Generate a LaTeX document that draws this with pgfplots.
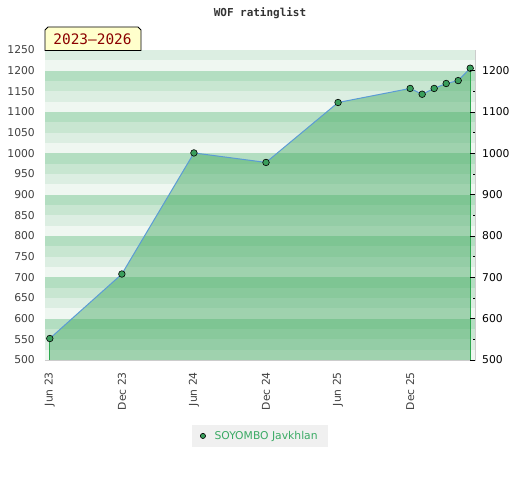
\documentclass[border=0pt]{standalone}
\usepackage{fontspec}
\setmainfont{DejaVu Sans}
\newfontfamily\monofont{DejaVu Sans Mono}
\usepackage{pgfplots}
\pgfplotsset{compat=1.18}
\definecolor{sA}{HTML}{EFF7F1}
\definecolor{sB}{HTML}{DCEEE2}
\definecolor{sC}{HTML}{C8E6D1}
\definecolor{sD}{HTML}{B3DEC1}
\definecolor{fillgreen}{HTML}{3EA75D}
\definecolor{vgreen}{HTML}{2EA84F}
\definecolor{lineblue}{HTML}{5B9BD5}
\definecolor{mgreen}{HTML}{3A9E5C}
\definecolor{legtext}{HTML}{3AAA64}
\definecolor{boxyellow}{HTML}{FFFFCC}
\definecolor{boxred}{HTML}{8B0000}
\newcommand{\tickfont}{\fontsize{10.8}{12}\selectfont}
\begin{document}
\begin{tikzpicture}
\useasboundingbox (0,0) rectangle (520bp,480bp);
\begin{axis}[
  at={(45bp,120bp)}, anchor=south west, scale only axis,
  width=430bp, height=310bp,
  xmin=-0.4, xmax=35.4, ymin=500, ymax=1250,
  axis line style={draw=black!20},
  major tick length=0pt,
  ytick={500,550,...,1250}, ytick pos=left,
  yticklabel style={font=\tickfont, text=black!75, inner sep=0pt},
  yticklabel shift=10bp,
  xtick={0,6,...,30}, xtick pos=left,
  xticklabels={Jun 23,Dec 23,Jun 24,Dec 24,Jun 25,Dec 25},
  xticklabel style={font=\tickfont, text=black!75, rotate=90, anchor=east, inner sep=0pt},
  xticklabel shift=12bp,
  /pgf/number format/1000 sep={},
  /pgf/number format/assume math mode=true,
  legend style={at={(0.5,-0.245)}, anchor=center, fill=black!6, draw=none,
    font=\tickfont, text=legtext, inner xsep=8bp, inner ysep=4.5bp},
  legend cell align=left,
]
\fill[sD] (axis cs:-0.4,500) rectangle (axis cs:35.4,1250);
\pgfplotsinvokeforeach{5,...,11}{
  \fill[sA] (axis cs:-0.4,#100) rectangle (axis cs:35.4,#125);
  \fill[sB] (axis cs:-0.4,#125) rectangle (axis cs:35.4,#150);
  \fill[sC] (axis cs:-0.4,#150) rectangle (axis cs:35.4,#175);
}
\fill[sA] (axis cs:-0.4,1200) rectangle (axis cs:35.4,1225);
\fill[sB] (axis cs:-0.4,1225) rectangle (axis cs:35.4,1250);
\addplot[draw=none, fill=fillgreen, fill opacity=0.45, forget plot] coordinates {
  (0,500) (0,552) (6,708) (12,1001) (18,978) (24,1123) (30,1157)
  (31,1143) (32,1157) (33,1169) (34,1176) (35,1206) (35,500)};
\addplot[vgreen, line width=1.2bp, forget plot] coordinates {(0,500) (0,552)};
\addplot[vgreen, line width=1.2bp, forget plot] coordinates {(35,500) (35,1206)};
\addplot[lineblue, line width=1bp, mark=*, mark size=3.3bp,
  mark options={fill=mgreen, draw=black, line width=0.6bp}, forget plot] coordinates {
  (0,552) (6,708) (12,1001) (18,978) (24,1123) (30,1157)
  (31,1143) (32,1157) (33,1169) (34,1176) (35,1206)};
\addlegendimage{only marks, mark=*, mark size=2.6bp, mark options={fill=mgreen, draw=black, line width=0.6bp}}
\addlegendentry{\hspace{7bp}SOYOMBO Javkhlan}
\end{axis}
\begin{axis}[
  at={(45bp,120bp)}, anchor=south west, scale only axis,
  width=430bp, height=310bp,
  xmin=-0.4, xmax=35.4, ymin=500, ymax=1250,
  axis x line=none, axis y line*=right,
  axis line style={draw=black!20},
  ytick={500,600,...,1200}, minor ytick={550,650,...,1150},
  tick align=inside, major tick length=5bp, minor tick length=2.5bp,
  tick style={black, line width=0.9bp},
  yticklabel style={font=\tickfont, text=black, inner sep=0pt},
  yticklabel shift=7bp,
  /pgf/number format/1000 sep={},
  /pgf/number format/assume math mode=true,
]
\addplot[draw=none] coordinates {(0,500)};
\end{axis}
\draw[fill=boxyellow, line width=0.8bp] (45bp,429.5bp) -- (45bp,450bp) -- (48bp,453bp) -- (138bp,453bp) -- (141bp,450bp) -- (141bp,429.5bp) -- cycle;
\node[text=boxred, font=\monofont\fontsize{14.5}{16}\selectfont] at (92.5bp,441bp) {2023–2026};
\node[text=black!80, font=\monofont\bfseries\fontsize{11}{13}\selectfont] at (260bp,467bp) {WOF ratinglist};
\end{tikzpicture}
\end{document}
